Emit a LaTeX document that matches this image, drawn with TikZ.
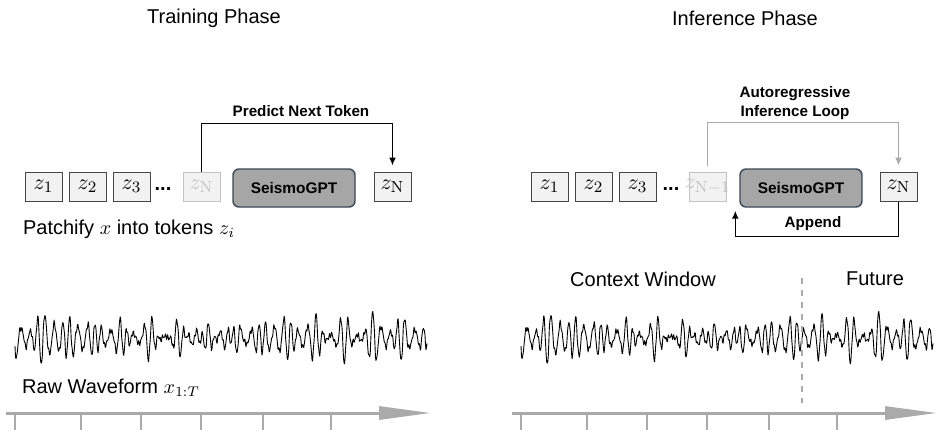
\documentclass[tikz,border=0pt]{standalone}
\usepackage{amsmath}
\usepackage[no-math]{fontspec}
\setmainfont{Liberation Sans}
\usetikzlibrary{arrows.meta,positioning,calc}
\definecolor{tokFill}  {RGB}{242, 242, 242}
\definecolor{tokEdge}  {RGB}{ 70,  70,  70}
\definecolor{ghostGray}{RGB}{195, 195, 195}
\definecolor{gptFill}  {RGB}{166, 166, 166}
\definecolor{gptEdge}  {RGB}{ 60,  72,  88}
\definecolor{axGray}   {RGB}{170, 170, 170}

\begin{document}
\begin{tikzpicture}[x=0.5pt,y=-0.5pt,
        tok/.style={draw=tokEdge,fill=tokFill,minimum width=18.5pt,
                    minimum height=14.5pt,inner sep=0pt,line width=0.5pt,
                    font=\fontsize{11}{13}\selectfont},
        ghost/.style={tok,draw=ghostGray,text=ghostGray},
        gpt/.style={draw=gptEdge,fill=gptFill,rounded corners=3pt,
                    minimum width=61pt,minimum height=19pt,line width=0.7pt,
                    font=\bfseries\fontsize{7.7}{9}\selectfont},
        lbl/.style={font=\bfseries\fontsize{7.6}{9.2}\selectfont,align=center},
        txt/.style={font=\fontsize{10}{12}\selectfont},
        lp/.style={line width=0.75pt,-{Latex[length=4pt,width=3.5pt]}},
        wave/.style={line width=0.45pt,line join=round},
        axis/.style={draw=axGray,line width=1.5pt,
                     -{Triangle[length=26pt,width=6.5pt]}},
        tick/.style={draw=axGray,line width=0.6pt}]

        \useasboundingbox (0,0) rectangle (943,435);

        % Titel
        \node[txt] (ttrain) at (214,18) {Training Phase};
        \node[txt] (tinfer) at (745,18) {Inference Phase};

        % Training: Tokens
        \node[tok]   (a1)  at (43.5,186.5)  {$z_1$};
        \node[tok]   (a2)  at (87.5,186.5)  {$z_2$};
        \node[tok]   (a3)  at (131.5,186.5) {$z_3$};
        \node[font=\bfseries\fontsize{10}{12}\selectfont] (adots) at (163,189) {...};
        \node[ghost] (aNg) at (201.5,186.5) {$z_{\mathrm{N}}$};
        \node[gpt]   (agpt) at (294,188)    {SeismoGPT};
        \node[tok]   (aN)  at (392.5,186.5) {$z_{\mathrm{N}}$};

        \draw[lp,shorten >=3pt] (aNg.north) -- ++(0,-48) -| (aN.north);
        \node[lbl] (apred) at (301,111) {Predict Next Token};
        \node[txt,anchor=west] (apatch) at (16,229) {Patchify $x$ into tokens $z_i$};

        % Inference: Tokens
        \node[tok]   (b1)  at (549.5,186.5) {$z_1$};
        \node[tok]   (b2)  at (593.5,186.5) {$z_2$};
        \node[tok]   (b3)  at (637.5,186.5) {$z_3$};
        \node[font=\bfseries\fontsize{10}{12}\selectfont] (bdots) at (671,189) {...};
        \node[ghost] (bNg) at (707.5,186.5) {\makebox[0pt]{$z_{\mathrm{N}-1}$}};
        \node[gpt]   (bgpt) at (801,188)    {SeismoGPT};
        \node[tok]   (bN)  at (898.5,186.5) {$z_{\mathrm{N}}$};

        \draw[lp,draw=axGray,shorten >=3pt,shorten <=3pt]
             (bNg.north) -- ++(0,-49) -| (bN.north);
        \node[lbl] (bloop) at (795,103) {Autoregressive\\Inference Loop};
        \draw[lp] (bN.south) |- ([xshift=-2pt,yshift=-14.5pt]bgpt.south west)
                  -- ([xshift=-2pt,yshift=-1.5pt]bgpt.south west);
        \node[lbl] (bapp) at (813,224) {Append};

        % Wellenform (mod haelt die Winkel klein)
        \foreach \ox in {15,521}{
          \draw[wave,shift={(\ox,338)}] plot[domain=0:412,samples=800]
            (\x,{(8+5*sin(1.3*\x+30)+3*sin(3.1*\x))*sin(44*mod(\x,90))
                 +7*sin(57*mod(\x,120)+40)+5*sin(33*mod(\x,120)+10)
                 +3*sin(70*mod(\x,36)+70)+2*sin(136*mod(\x,45))
                 +1.2*sin(200*mod(\x,9))});
        }
        \node[txt,anchor=west] (araw) at (15,388) {Raw Waveform $x_{1:T}$};
        \node[txt] (bctx) at (643,279) {Context Window};
        \node[txt] (bfut) at (875,279) {Future};
        \coordinate (cut1) at (802,278);
        \coordinate (cut2) at (802,403);
        \draw[axGray,dashed,line width=0.6pt] (cut1) -- (cut2);

        % Zeitachsen
        \coordinate (ax1) at (6,413);   \coordinate (ax2) at (431,413);
        \coordinate (bx1) at (512,413); \coordinate (bx2) at (937,413);
        \draw[axis] (ax1) -- (ax2);
        \draw[axis] (bx1) -- (bx2);
        \foreach \t in {15,81,141,201,263,331}{
          \draw[tick] (\t,414) -- (\t,430);
          \draw[tick] (\t+506,414) -- (\t+506,430);
        }
      \end{tikzpicture}
\end{document}
